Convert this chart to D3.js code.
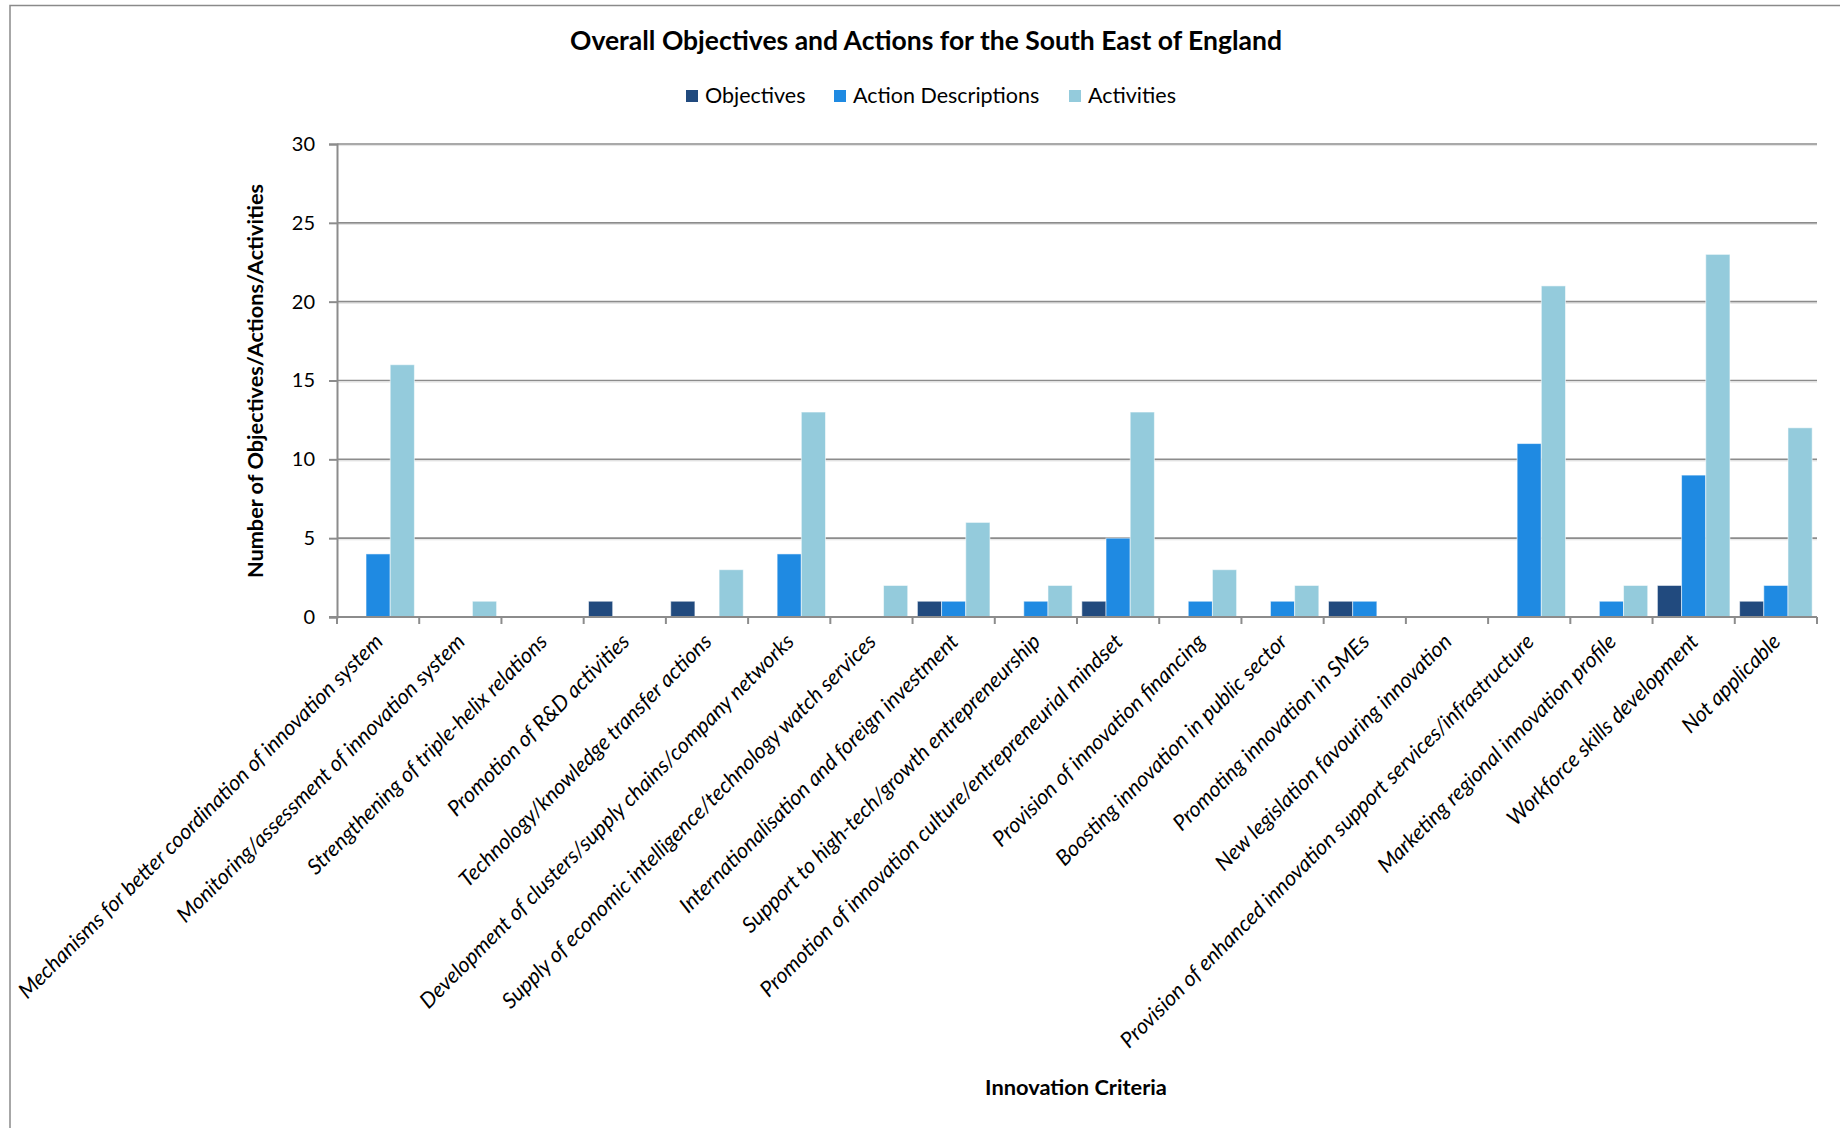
<!DOCTYPE html>
<html>
<head>
<meta charset="utf-8">
<script src="https://cdn.jsdelivr.net/npm/d3@7"></script>
<style>
  html, body { margin: 0; padding: 0; background: #ffffff; }
  svg { display: block; }
  text { font-family: Lato, "Open Sans", sans-serif; fill: #000; }
</style>
</head>
<body>
<script>
// Innovation criteria (x categories)
const categories = [
  "Mechanisms for better coordination of innovation system",
  "Monitoring/assessment of innovation system",
  "Strengthening of triple-helix relations",
  "Promotion of R&D activities",
  "Technology/knowledge transfer actions",
  "Development of clusters/supply chains/company networks",
  "Supply of economic intelligence/technology watch services",
  "Internationalisation and foreign investment",
  "Support to high-tech/growth entrepreneurship",
  "Promotion of innovation culture/entrepreneurial  mindset",
  "Provision of innovation financing",
  "Boosting innovation in public sector",
  "Promoting innovation in SMEs",
  "New legislation favouring innovation",
  "Provision of enhanced innovation support services/infrastructure",
  "Marketing regional innovation profile",
  "Workforce skills development",
  "Not applicable"
];

const seriesNames = ["Objectives", "Action Descriptions", "Activities"];

// Counts per criterion
const objectives         = [0, 0, 0, 1, 1, 0, 0, 1, 0, 1, 0, 0, 1, 0, 0, 0, 2, 1];
const actionDescriptions = [4, 0, 0, 0, 0, 4, 0, 1, 1, 5, 1, 1, 1, 0, 11, 1, 9, 2];
const activities         = [16, 1, 0, 0, 3, 13, 2, 6, 2, 13, 3, 2, 0, 0, 21, 2, 23, 12];

const yTicks = [0, 5, 10, 15, 20, 25, 30];

const seriesValues = [objectives, actionDescriptions, activities];
const colors = ["#214a7e", "#1f8ae2", "#94cbdc"];

const W = 1840, H = 1128;
const plot = { left: 337, right: 1817, top: 144, bottom: 617 };

const svg = d3.select("body").append("svg")
  .attr("width", W).attr("height", H);

// chart-area frame
svg.append("path")
  .attr("d", `M10,${H} L10,5.5 L${W},5.5`)
  .attr("fill", "none").attr("stroke", "#8a8a8a").attr("stroke-width", 1.5);

const x0 = d3.scaleBand().domain(d3.range(categories.length))
  .range([plot.left, plot.right]).paddingInner(0).paddingOuter(0);
const x1 = d3.scaleBand().domain(d3.range(seriesNames.length))
  .range([0, x0.bandwidth()]).paddingInner(0).paddingOuter(0.2);
const y = d3.scaleLinear().domain([0, 30]).range([plot.bottom, plot.top]);

// horizontal gridlines
const grid = svg.append("g");
grid.selectAll("line.g").data(yTicks.filter(t => t > 0)).join("line")
  .attr("x1", plot.left).attr("x2", plot.right)
  .attr("y1", d => y(d)).attr("y2", d => y(d))
  .attr("stroke", "#8c8c8c").attr("stroke-width", 1.6);
grid.selectAll("line.s").data(yTicks.filter(t => t > 0)).join("line")
  .attr("x1", plot.left).attr("x2", plot.right)
  .attr("y1", d => y(d) + 1.6).attr("y2", d => y(d) + 1.6)
  .attr("stroke", "#e2e2e2").attr("stroke-width", 1);

// bars
const groups = svg.append("g").selectAll("g")
  .data(categories.map((c, i) => i)).join("g")
  .attr("transform", i => `translate(${x0(i)},0)`);
groups.selectAll("rect")
  .data(i => seriesValues.map((vals, s) => ({ s, v: vals[i] })).filter(d => d.v > 0))
  .join("rect")
  .attr("x", d => x1(d.s))
  .attr("width", x1.bandwidth())
  .attr("y", d => y(d.v))
  .attr("height", d => y(0) - y(d.v))
  .attr("fill", d => colors[d.s])
  .attr("stroke", "rgba(255,255,255,0.55)")
  .attr("stroke-width", 1);

// y axis
const yAxis = svg.append("g")
  .attr("transform", `translate(${plot.left},0)`)
  .call(d3.axisLeft(y).tickValues(yTicks).tickSize(8).tickPadding(14));
yAxis.select(".domain").attr("stroke", "#8c8c8c").attr("stroke-width", 2);
yAxis.selectAll(".tick line").attr("stroke", "#8c8c8c").attr("stroke-width", 2);
yAxis.selectAll(".tick text")
  .style("font-family", "Lato, sans-serif").style("font-size", "20px").attr("fill", "#000");

// x axis (ticks at category boundaries)
const xAxis = svg.append("g").attr("transform", `translate(0,${plot.bottom})`);
xAxis.append("line")
  .attr("x1", plot.left - 8).attr("x2", plot.right)
  .attr("stroke", "#8c8c8c").attr("stroke-width", 2);
xAxis.selectAll("line.t").data(d3.range(categories.length + 1)).join("line")
  .attr("class", "t")
  .attr("x1", i => plot.left + i * x0.step()).attr("x2", i => plot.left + i * x0.step())
  .attr("y1", 0).attr("y2", 7)
  .attr("stroke", "#8c8c8c").attr("stroke-width", 2);

// rotated category labels
xAxis.selectAll("text.cat").data(categories).join("text")
  .attr("class", "cat")
  .attr("text-anchor", "end")
  .attr("transform", (d, i) => `translate(${x0(i) + x0.bandwidth() / 2 + 6},${26}) rotate(-45)`)
  .style("font-size", "21.5px").style("font-style", "italic")
  .text(d => d);

// title
svg.append("text")
  .attr("x", 926).attr("y", 50).attr("text-anchor", "middle")
  .style("font-size", "26.5px").style("font-weight", "bold")
  .text("Overall Objectives and Actions for the South East of England");

// legend
const legendItems = [
  { name: seriesNames[0], x: 686 },
  { name: seriesNames[1], x: 834 },
  { name: seriesNames[2], x: 1069 }
];
const lg = svg.append("g").selectAll("g").data(legendItems).join("g")
  .attr("transform", (d) => `translate(${d.x},90)`);
lg.append("rect").attr("width", 12).attr("height", 12).attr("fill", (d, i) => colors[i]);
lg.append("text").attr("x", 19).attr("y", 13)
  .style("font-size", "21.5px").text(d => d.name);

// axis titles
svg.append("text")
  .attr("transform", `translate(263,381) rotate(-90)`)
  .attr("text-anchor", "middle")
  .style("font-size", "21.7px").style("font-weight", "bold")
  .text("Number of Objectives/Actions/Activities");

svg.append("text")
  .attr("x", 1076).attr("y", 1095).attr("text-anchor", "middle")
  .style("font-size", "21.8px").style("font-weight", "bold")
  .text("Innovation Criteria");
</script>
</body>
</html>
